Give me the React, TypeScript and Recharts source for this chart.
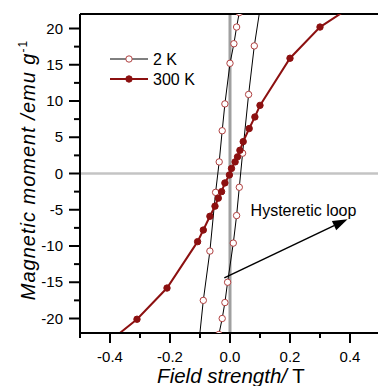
import React from "react";
import {
  LineChart,
  Line,
  XAxis,
  YAxis,
  ReferenceLine,
} from "recharts";

// 300 K branch (field in T, moment in emu/g)
const hot300X = [-0.4, -0.31, -0.21, -0.108, -0.089, -0.067, -0.05, -0.039, -0.028, -0.017, -0.002, 0.005, 0.017, 0.025, 0.033, 0.044, 0.064, 0.083, 0.1, 0.2, 0.3, 0.4];
const hot300Y = [-23.1, -20.1, -15.8, -9.4, -7.8, -5.9, -4.5, -3.4, -2.5, -1.3, -0.2, 0.7, 1.6, 2.3, 3.2, 4.4, 6.2, 7.8, 9.4, 15.9, 20.2, 22.9];

// 2 K descending branch
const cold2DownX = [0.031, 0.022, 0.013, 0.0, -0.017, -0.026, -0.036, -0.048, -0.067, -0.089, -0.104];
const cold2DownY = [22.2, 20.2, 17.9, 15.2, 9.6, 5.9, 1.6, -2.6, -10.7, -17.5, -23.5];

// 2 K ascending branch
const cold2UpX = [-0.037, -0.026, -0.017, -0.008, 0.011, 0.022, 0.031, 0.042, 0.062, 0.081, 0.103];
const cold2UpY = [-22.2, -20.0, -17.8, -15.0, -9.6, -5.8, -1.9, 2.8, 10.9, 17.6, 23.5];

const xTicks = [-0.5, -0.4, -0.3, -0.2, -0.1, 0, 0.1, 0.2, 0.3, 0.4, 0.5];
const xMajor = [-0.4, -0.2, 0, 0.2, 0.4];
const yTicks = [-20, -17.5, -15, -12.5, -10, -7.5, -5, -2.5, 0, 2.5, 5, 7.5, 10, 12.5, 15, 17.5, 20];

const arrowStart = { x: -0.019, y: -14.4 };
const arrowEnd = { x: 0.392, y: -6.3 };

const zip = (xs: number[], ys: number[]) => xs.map((x, i) => ({ x, y: ys[i] }));
const hot300 = zip(hot300X, hot300Y);
const cold2Down = zip(cold2DownX, cold2DownY);
const cold2Up = zip(cold2UpX, cold2UpY);

const FONT = "'Liberation Sans', Arial, sans-serif";
const RED = "#8c1010";
const OPEN = "#b04040";

const isMajorX = (v: number) => xMajor.some((m) => Math.abs(m - v) < 1e-9);

function XTick(props: any) {
  const { x, y, payload } = props;
  const major = isMajorX(payload.value);
  return (
    <g>
      <line x1={x} x2={x} y1={y} y2={y + (major ? 10 : 5)} stroke="#000" strokeWidth={2} />
      {major && (
        <text x={x} y={y + 29} textAnchor="middle" fontSize={15} fontFamily={FONT} fill="#000">
          {payload.value.toFixed(1)}
        </text>
      )}
    </g>
  );
}

function YTick(props: any) {
  const { x, y, payload } = props;
  const major = payload.value % 5 === 0;
  return (
    <g>
      <line x1={x} x2={x - (major ? 11 : 6)} y1={y} y2={y} stroke="#000" strokeWidth={2} />
      {major && (
        <text x={x - 17} y={y + 5} textAnchor="end" fontSize={15} fontFamily={FONT} fill="#000">
          {payload.value}
        </text>
      )}
    </g>
  );
}

function Arrow(props: any) {
  const { x1, y1, x2, y2 } = props;
  const ang = Math.atan2(y2 - y1, x2 - x1);
  const len = 15;
  const half = 5;
  const bx = x2 - len * Math.cos(ang);
  const by = y2 - len * Math.sin(ang);
  const px = -Math.sin(ang) * half;
  const py = Math.cos(ang) * half;
  return (
    <g>
      <line x1={x1} y1={y1} x2={bx} y2={by} stroke="#000" strokeWidth={1.5} />
      <polygon points={`${x2},${y2} ${bx + px},${by + py} ${bx - px},${by - py}`} fill="#000" />
      <text x={x2 - 97} y={y2 - 3} fontSize={16} fontFamily={FONT} fill="#000">
        Hysteretic loop
      </text>
    </g>
  );
}

function LegendBox() {
  const rows = [
    { label: "2 K", line: "#000", fill: "#fff", stroke: OPEN },
    { label: "300 K", line: RED, fill: RED, stroke: RED },
  ];
  return (
    <svg width={120} height={44} style={{ position: "absolute", left: 110, top: 49 }}>
      {rows.map((r, i) => (
        <g key={r.label} transform={`translate(0, ${10 + i * 20})`}>
          <line x1={0} x2={38} y1={0} y2={0} stroke={r.line} strokeWidth={r.line === "#000" ? 1 : 2} />
          <circle cx={19} cy={0} r={3.2} fill={r.fill} stroke={r.stroke} strokeWidth={1} />
          <text x={43} y={5.5} fontSize={16} fontFamily={FONT} fill="#000">
            {r.label}
          </text>
        </g>
      ))}
    </svg>
  );
}

export default function App() {
  return (
    <div style={{ position: "absolute", left: 0, top: 0, width: 378, height: 386, overflow: "hidden", background: "#fff" }}>
      <LineChart width={390} height={386} margin={{ top: 14, right: 10, bottom: 0, left: 0 }}>
        <XAxis
          type="number"
          dataKey="x"
          domain={[-0.5, 0.5]}
          ticks={xTicks}
          interval={0}
          allowDataOverflow
          height={53}
          tickSize={0}
          tickMargin={0}
          tickLine={false}
          axisLine={{ stroke: "#000", strokeWidth: 2 }}
          tick={<XTick />}
        />
        <YAxis
          type="number"
          dataKey="y"
          domain={[-22, 22]}
          ticks={yTicks}
          interval={0}
          allowDataOverflow
          width={80}
          tickSize={0}
          tickMargin={0}
          tickLine={false}
          axisLine={{ stroke: "#000", strokeWidth: 2 }}
          tick={<YTick />}
        />
        <ReferenceLine y={0} stroke="#c4c4c4" strokeWidth={2.5} />
        <ReferenceLine x={0} stroke="#a0a0a0" strokeWidth={3} />
        <ReferenceLine y={22} stroke="#000" strokeWidth={2} />
        <Line
          data={cold2Down}
          dataKey="y"
          name="2 K"
          stroke="#000"
          strokeWidth={1}
          dot={{ r: 3.2, fill: "#fff", stroke: OPEN, strokeWidth: 1 }}
          isAnimationActive={false}
        />
        <Line
          data={cold2Up}
          dataKey="y"
          name="2 K up"
          stroke="#000"
          strokeWidth={1}
          dot={{ r: 3.2, fill: "#fff", stroke: OPEN, strokeWidth: 1 }}
          isAnimationActive={false}
        />
        <Line
          data={hot300}
          dataKey="y"
          name="300 K"
          stroke={RED}
          strokeWidth={2}
          dot={{ r: 3.2, fill: RED, stroke: RED, strokeWidth: 1 }}
          isAnimationActive={false}
        />
        <ReferenceLine
          segment={[arrowStart, arrowEnd]}
          ifOverflow="visible"
          shape={<Arrow />}
        />
      </LineChart>
      <LegendBox />
      <div
        style={{
          position: "absolute",
          left: 28,
          top: 170,
          transform: "translate(-50%, -50%) rotate(-90deg)",
          whiteSpace: "nowrap",
          fontFamily: FONT,
          fontSize: 20,
          letterSpacing: 1,
          fontStyle: "italic",
        }}
      >
        Magnetic moment /emu g<sup style={{ fontSize: 12, fontStyle: "normal" }}>-1</sup>
      </div>
      <div
        style={{
          position: "absolute",
          left: 231,
          top: 376,
          transform: "translate(-50%, -50%)",
          whiteSpace: "nowrap",
          fontFamily: FONT,
          fontSize: 20.5,
        }}
      >
        <i>Field strength/</i> T
      </div>
    </div>
  );
}
